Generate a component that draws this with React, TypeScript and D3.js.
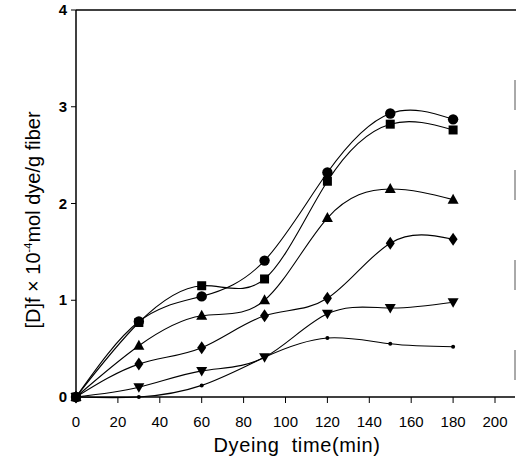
import React from "react";
import * as d3 from "d3";

const times = [0, 30, 60, 90, 120, 150, 180];
const circleVals = [0, 0.78, 1.04, 1.41, 2.32, 2.93, 2.87];
const squareVals = [0, 0.77, 1.15, 1.22, 2.23, 2.82, 2.76];
const triangleVals = [0, 0.53, 0.84, 1.0, 1.85, 2.15, 2.04];
const diamondVals = [0, 0.34, 0.51, 0.84, 1.02, 1.59, 1.63];
const invTriVals = [0, 0.1, 0.27, 0.41, 0.86, 0.92, 0.98];
const dotVals = [0, 0.0, 0.12, 0.41, 0.61, 0.55, 0.52];
const xTicks = [0, 20, 40, 60, 80, 100, 120, 140, 160, 180, 200];
const yTicks = [0, 1, 2, 3, 4];

const series = [
  { name: "circle", values: circleVals },
  { name: "square", values: squareVals },
  { name: "triangle", values: triangleVals },
  { name: "diamond", values: diamondVals },
  { name: "invtri", values: invTriVals },
  { name: "dot", values: dotVals },
];

const W = 516;
const H = 461;
const x = d3.scaleLinear().domain([0, 200]).range([76, 495]);
const y = d3.scaleLinear().domain([0, 4]).range([397, 10]);

function Marker({ kind, cx, cy }: { kind: string; cx: number; cy: number }) {
  switch (kind) {
    case "circle":
      return <circle cx={cx} cy={cy} r={5.2} fill="#000" />;
    case "square":
      return <rect x={cx - 4.5} y={cy - 4.5} width={9} height={9} fill="#000" />;
    case "triangle":
      return <path d={`M${cx},${cy - 6} L${cx + 5.5},${cy + 4} L${cx - 5.5},${cy + 4} Z`} fill="#000" />;
    case "invtri":
      return <path d={`M${cx},${cy + 5.5} L${cx + 5.5},${cy - 4} L${cx - 5.5},${cy - 4} Z`} fill="#000" />;
    case "diamond":
      return <path d={`M${cx},${cy - 6.5} L${cx + 4.5},${cy} L${cx},${cy + 6.5} L${cx - 4.5},${cy} Z`} fill="#000" />;
    default:
      return <circle cx={cx} cy={cy} r={2} fill="#000" />;
  }
}

export default function App() {
  const line = d3
    .line<number>()
    .x((_, i) => x(times[i]))
    .y((v) => y(v))
    .curve(d3.curveNatural);

  const font = "Liberation Sans, Arial, sans-serif";

  return (
    <svg
      width={W}
      height={H}
      style={{ position: "absolute", left: 0, top: 0, background: "#fff" }}
      fontFamily={font}
    >
      <rect width={W} height={H} fill="#fff" />
      {/* frame */}
      <line x1={76} y1={10} x2={516} y2={10} stroke="#000" strokeWidth={1.5} />
      <line x1={76} y1={10} x2={76} y2={397} stroke="#000" strokeWidth={1.5} />
      <line x1={76} y1={397} x2={515} y2={397} stroke="#000" strokeWidth={1.5} />
      <line x1={515} y1={80} x2={515} y2={397} stroke="#555" strokeWidth={1} strokeDasharray="30 60" />

      {/* y ticks */}
      {yTicks.map((t) => (
        <g key={"y" + t}>
          <line x1={71} x2={76} y1={y(t)} y2={y(t)} stroke="#000" strokeWidth={1} />
          <text x={67} y={y(t) + 5} textAnchor="end" fontSize={15} fontWeight="bold">
            {t}
          </text>
        </g>
      ))}

      {/* x ticks */}
      {xTicks.map((t) => (
        <g key={"x" + t}>
          <line x1={x(t)} x2={x(t)} y1={397} y2={403} stroke="#000" strokeWidth={1} />
          <text x={x(t)} y={427} textAnchor="middle" fontSize={15}>
            {t}
          </text>
        </g>
      ))}

      {/* series */}
      {series.map((s) => (
        <g key={s.name}>
          <path d={line(s.values) || ""} fill="none" stroke="#000" strokeWidth={1.1} />
          {s.values.map((v, i) => (
            <Marker key={i} kind={s.name} cx={x(times[i])} cy={y(v)} />
          ))}
        </g>
      ))}

      {/* axis titles */}
      <text x={297} y={452} textAnchor="middle" fontSize={20} letterSpacing={0.6}>
        {"Dyeing\u00a0 time(min)"}
      </text>
      <text
        transform="translate(40,220) rotate(-90)"
        textAnchor="middle"
        fontSize={20}
      >
        [D]f × 10
        <tspan fontSize={11} dy={-8}>-4</tspan>
        <tspan dy={8}>mol dye/g fiber</tspan>
      </text>
    </svg>
  );
}
